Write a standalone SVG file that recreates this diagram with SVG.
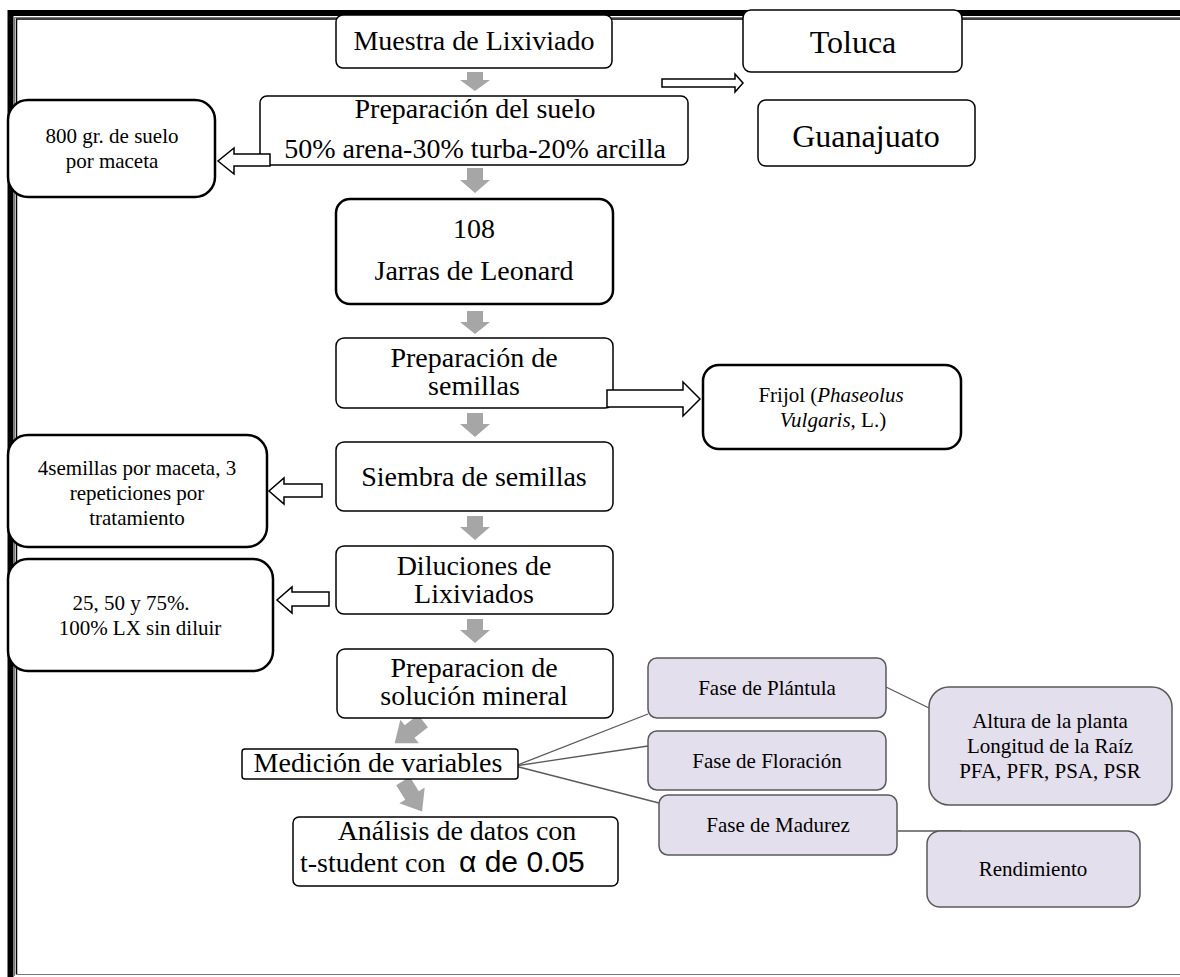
<svg xmlns="http://www.w3.org/2000/svg" width="1180" height="977" viewBox="0 0 1180 977">
<style>
  text { font-family: "Liberation Serif", "Times New Roman", serif; fill: #000; }
  .box { fill: #fff; stroke: #000; stroke-width: 1.5; }
  .boxb { fill: #fff; stroke: #000; stroke-width: 2.5; }
  .lav { fill: #e4dfec; stroke: #595959; stroke-width: 1.5; }
  .garrow { fill: #a6a6a6; }
  .barrow { fill: #fff; stroke: #000; stroke-width: 1.5; stroke-linejoin: miter; }
  .line { stroke: #595959; stroke-width: 1.3; fill: none; }
  .t28 { font-size: 28px; text-anchor: middle; }
  .t32 { font-size: 32px; text-anchor: middle; }
  .t21 { font-size: 21px; text-anchor: middle; }
  .sans { font-family: "Liberation Sans", Arial, sans-serif; }
</style>
<defs>
  <path id="darrow" d="M0,-8 H17 V-15 L36,0 L17,15 V8 H0 Z"/>
</defs>

<!-- frame -->
<g id="frame" fill="none">
  <path d="M10.5,990 V13 H1190" stroke="#000" stroke-width="6"/>
  <path d="M16.5,974.5 V19 H1190" stroke="#000" stroke-width="1.5"/>
  <path d="M14.5,976 V17.5 H1190 M16.5,974.5 H1190" stroke="#777" stroke-width="1"/>
</g>

<!-- connectors -->
<g id="connectors">
  <path class="garrow" d="M467,72 H483 V80 H490 L475,91 L460,80 H467 Z"/>
  <path class="garrow" d="M467,168 H483 V180 H490 L475,193 L460,180 H467 Z"/>
  <path class="garrow" d="M467,311 H483 V322 H490 L475,334 L460,322 H467 Z"/>
  <path class="garrow" d="M467,413 H483 V424 H490 L475,437 L460,424 H467 Z"/>
  <path class="garrow" d="M467,516 H483 V527 H490 L475,540 L460,527 H467 Z"/>
  <path class="garrow" d="M467,619 H483 V630 H490 L475,643 L460,630 H467 Z"/>
  <use href="#darrow" class="garrow" transform="translate(423,721) rotate(142)"/>
  <use href="#darrow" class="garrow" transform="translate(403,781) rotate(58)"/>

  <line class="line" x1="515" y1="766" x2="648" y2="714"/>
  <line class="line" x1="515" y1="766" x2="648" y2="746"/>
  <line class="line" x1="515" y1="766" x2="659" y2="803"/>
  <line class="line" x1="886" y1="687" x2="929" y2="708"/>
  <line class="line" x1="898" y1="831" x2="961" y2="831"/>
</g>

<!-- left info nodes -->
<g id="n-800gr">
  <rect class="boxb" x="8" y="100" width="207" height="97" rx="20"/>
  <text class="t21" x="112" y="143">800 gr. de suelo</text>
  <text class="t21" x="112" y="168">por maceta</text>
</g>
<g id="n-4semillas">
  <rect class="boxb" x="8" y="435" width="259" height="112" rx="20"/>
  <text class="t21" x="137" y="475">4semillas por maceta, 3</text>
  <text class="t21" x="137" y="500">repeticiones por</text>
  <text class="t21" x="137" y="525">tratamiento</text>
</g>
<g id="n-diluciones-info">
  <rect class="boxb" x="8" y="559" width="265" height="112" rx="20"/>
  <text class="t21" x="131" y="610">25, 50 y 75%.</text>
  <text class="t21" x="140" y="635">100% LX sin diluir</text>
</g>

<!-- main flow -->
<g id="n-muestra">
  <rect class="box" x="336" y="15" width="276" height="53" rx="7"/>
  <text class="t28" x="474" y="50">Muestra de Lixiviado</text>
</g>
<g id="n-toluca">
  <rect class="box" x="743" y="10" width="219" height="62" rx="8"/>
  <text class="t32" x="853" y="53">Toluca</text>
</g>
<g id="n-guanajuato">
  <rect class="box" x="758" y="100" width="217" height="66" rx="8"/>
  <text class="t32" x="866" y="147">Guanajuato</text>
</g>
<g id="n-suelo">
  <rect class="box" x="260" y="96" width="428" height="69" rx="7"/>
  <text class="t28" x="475" y="118">Preparación del suelo</text>
  <text class="t28" x="475" y="158">50% arena-30% turba-20% arcilla</text>
</g>
<g id="n-jarras">
  <rect class="boxb" x="336" y="199" width="277" height="105" rx="14"/>
  <text class="t28" x="474" y="238">108</text>
  <text class="t28" x="474" y="280">Jarras de Leonard</text>
</g>
<g id="n-prep-semillas">
  <rect class="box" x="336" y="338" width="277" height="70" rx="8"/>
  <text class="t28" x="474" y="367">Preparación de</text>
  <text class="t28" x="474" y="395">semillas</text>
</g>
<g id="n-frijol">
  <rect class="boxb" x="703" y="365" width="258" height="84" rx="16"/>
  <text class="t21" x="831" y="402">Frijol (<tspan font-style="italic">Phaseolus</tspan></text>
  <text class="t21" x="833" y="427"><tspan font-style="italic">Vulgaris</tspan>, L.)</text>
</g>
<g id="n-siembra">
  <rect class="box" x="336" y="442" width="277" height="69" rx="8"/>
  <text class="t28" x="474" y="486">Siembra de semillas</text>
</g>
<g id="n-diluciones">
  <rect class="box" x="336" y="546" width="277" height="68" rx="8"/>
  <text class="t28" x="474" y="575">Diluciones de</text>
  <text class="t28" x="474" y="603">Lixiviados</text>
</g>
<g id="n-solucion">
  <rect class="box" x="337" y="649" width="276" height="69" rx="8"/>
  <text class="t28" x="474" y="677">Preparacion de</text>
  <text class="t28" x="474" y="705">solución mineral</text>
</g>
<g id="n-medicion">
  <rect class="box" x="242" y="749" width="276" height="30" rx="3" stroke-width="1.2"/>
  <text class="t28" x="378" y="772">Medición de variables</text>
</g>
<g id="n-analisis">
  <rect class="box" x="293" y="817" width="325" height="69" rx="6" stroke-width="1.2"/>
  <text class="t28" x="457" y="840">Análisis de datos con</text>
  <text x="300" y="872" font-size="28">t-student con <tspan class="sans" x="459" font-size="30">α de 0.05</tspan></text>
</g>

<!-- phase nodes -->
<g id="n-plantula">
  <rect class="lav" x="648" y="658" width="238" height="60" rx="9"/>
  <text class="t21" x="767" y="695">Fase de Plántula</text>
</g>
<g id="n-floracion">
  <rect class="lav" x="648" y="731" width="238" height="59" rx="9"/>
  <text class="t21" x="767" y="768">Fase de Floración</text>
</g>
<g id="n-madurez">
  <rect class="lav" x="659" y="795" width="238" height="60" rx="9"/>
  <text class="t21" x="778" y="832">Fase de Madurez</text>
</g>
<g id="n-altura">
  <rect class="lav" x="929" y="687" width="243" height="118" rx="20"/>
  <text class="t21" x="1050" y="728">Altura de la planta</text>
  <text class="t21" x="1050" y="753">Longitud de la Raíz</text>
  <text class="t21" x="1050" y="778">PFA, PFR, PSA, PSR</text>
</g>
<g id="n-rendimiento">
  <rect class="lav" x="927" y="831" width="213" height="76" rx="13"/>
  <text class="t21" x="1033" y="876">Rendimiento</text>
</g>

<!-- block arrows -->
<g id="block-arrows">
  <path class="barrow" d="M662,79 H735 V74 L743,83 L735,92 V87 H662 Z"/>
  <path class="barrow" d="M270,154 H234 V148 L218,161 L234,174 V166 H270 Z"/>
  <path class="barrow" d="M607,390 H683 V382 L700,399 L683,416 V407 H607 Z"/>
  <path class="barrow" d="M322,484 H284 V478 L269,491 L284,504 V497 H322 Z"/>
  <path class="barrow" d="M329,592 H292 V587 L277,600 L292,613 V606 H329 Z"/>
</g>
</svg>
